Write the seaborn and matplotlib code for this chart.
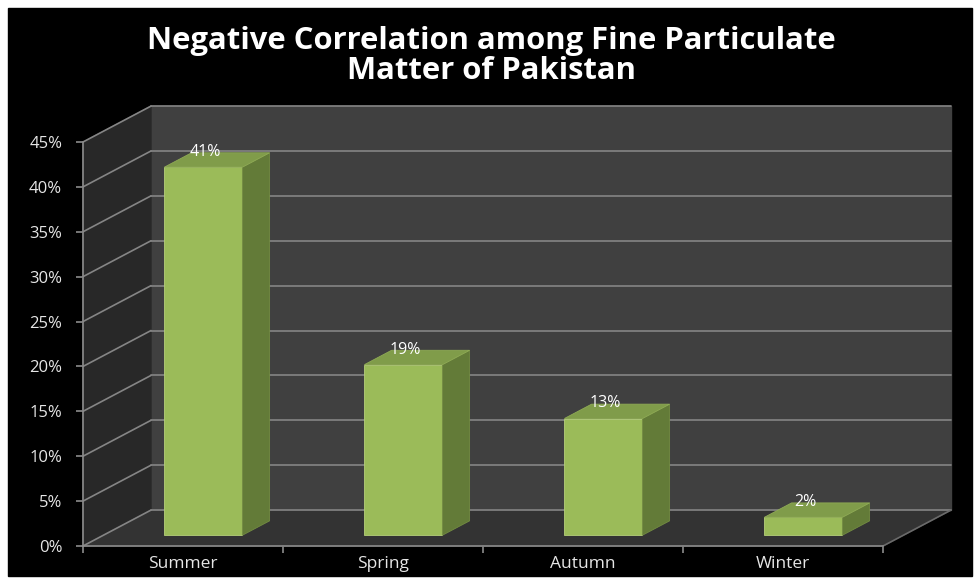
import matplotlib
matplotlib.use("Agg")
import matplotlib.pyplot as plt
from matplotlib.patches import Polygon, Rectangle
from matplotlib.ticker import PercentFormatter
import seaborn as sns
import pandas as pd

# data
seasons = ["Summer", "Spring", "Autumn", "Winter"]
values = [0.41, 0.19, 0.13, 0.02]
value_labels = ["41%", "19%", "13%", "2%"]
y_ticks = [0, 0.05, 0.10, 0.15, 0.20, 0.25, 0.30, 0.35, 0.40, 0.45]

title = "Negative Correlation among Fine Particulate\nMatter of Pakistan"

# fake 3D depth offset (data units) and bar depth range
DX, DY = 0.34, 0.040
D0, D1 = 0.3, 0.7

FRONT = "#9bbb59"
TOP = "#809c4a"
SIDE = "#637b38"
WALL = "#404040"
SIDE_WALL = "#282828"
FLOOR = "#333333"
GRID = "#858585"
TXT = "#e6e6e6"

sns.set_theme(style="dark")
plt.rcParams["font.family"] = ["Open Sans", "DejaVu Sans"]

fig = plt.figure(figsize=(9.74, 5.79), dpi=100)
fig.patch.set_facecolor("white")
bg = Rectangle((8 / 974, 3 / 579), 964 / 974, 568 / 579,
               transform=fig.transFigure, color="black", zorder=-10)
fig.patches.append(bg)

ax = fig.add_axes([83 / 974, 33 / 579, 800 / 974, 404 / 579])
ax.set_facecolor("none")

df = pd.DataFrame({"season": seasons, "value": values})
sns.barplot(data=df, x="season", y="value", order=seasons, color=FRONT,
            width=0.39, saturation=1, ax=ax, zorder=5)

ax.set_xlim(-0.5, 3.5)
ax.set_ylim(0, 0.45)
ymax = ax.get_ylim()[1]
x0, x1 = ax.get_xlim()

# walls and floor
ax.add_patch(Polygon([(x0 + DX, DY), (x1 + DX, DY), (x1 + DX, ymax + DY), (x0 + DX, ymax + DY)],
                     closed=True, color=WALL, zorder=1, clip_on=False))
ax.add_patch(Polygon([(x0, 0), (x0 + DX, DY), (x0 + DX, ymax + DY), (x0, ymax)],
                     closed=True, color=SIDE_WALL, zorder=1, clip_on=False))
ax.add_patch(Polygon([(x0, 0), (x1, 0), (x1 + DX, DY), (x0 + DX, DY)],
                     closed=True, color=FLOOR, zorder=1, clip_on=False))

# gridlines on back wall and side wall
for v in y_ticks:
    ax.plot([x0 + DX, x1 + DX], [v + DY, v + DY], color=GRID, lw=1.2, zorder=2, clip_on=False)
    ax.plot([x0, x0 + DX], [v, v + DY], color=GRID, lw=1.2, zorder=2, clip_on=False)
ax.plot([x1, x1 + DX], [0, DY], color="#6a6a6a", lw=1.2, zorder=2, clip_on=False)

# push bars back and add side/top faces
for p, lab in zip(ax.patches[:len(values)], value_labels):
    bx, bw, bh = p.get_x(), p.get_width(), p.get_height()
    p.set_x(bx + D0 * DX)
    p.set_y(D0 * DY)
    p.set_edgecolor("#b5cf7a")
    p.set_linewidth(0.6)
    r = bx + bw
    side = Polygon([(r + D0 * DX, D0 * DY), (r + D1 * DX, D1 * DY),
                    (r + D1 * DX, bh + D1 * DY), (r + D0 * DX, bh + D0 * DY)],
                   closed=True, facecolor=SIDE, edgecolor="#738c42", lw=0.6, zorder=5, clip_on=False)
    top = Polygon([(bx + D0 * DX, bh + D0 * DY), (r + D0 * DX, bh + D0 * DY),
                   (r + D1 * DX, bh + D1 * DY), (bx + D1 * DX, bh + D1 * DY)],
                  closed=True, facecolor=TOP, edgecolor="#8fab55", lw=0.6, zorder=5, clip_on=False)
    ax.add_patch(side)
    ax.add_patch(top)
    ax.text(bx + bw / 2 + 0.33 * DX, bh + 0.72 * DY, lab, ha="center", va="center",
            color="white", fontsize=11.5, zorder=6, clip_on=False)

# axes styling
for s in ["top", "right"]:
    ax.spines[s].set_visible(False)
for s in ["left", "bottom"]:
    ax.spines[s].set_visible(True)
    ax.spines[s].set_color("#8c8c8c")
    ax.spines[s].set_linewidth(1.2)
    ax.spines[s].set_zorder(3)
ax.set_yticks(y_ticks)
ax.yaxis.set_major_formatter(PercentFormatter(1.0, decimals=0))
ax.tick_params(axis="y", colors=TXT, labelsize=12, length=5, width=1.2, pad=10,
               color="#8c8c8c", left=True)
ax.set_xticks(range(len(seasons)))
ax.set_xticks([-0.5, 0.5, 1.5, 2.5, 3.5], minor=True)
ax.tick_params(axis="x", which="major", colors=TXT, labelsize=12.5, length=0, pad=7)
ax.tick_params(axis="x", which="minor", length=5, width=1.2, color="#8c8c8c", bottom=True)
ax.set_xlabel("")
ax.set_ylabel("")
ax.grid(False)

fig.text(0.505, 0.903, title, ha="center", va="center", color="white",
         fontsize=22.3, fontweight="bold", linespacing=1.0)

fig.savefig("out.png", dpi=100, facecolor=fig.get_facecolor())
